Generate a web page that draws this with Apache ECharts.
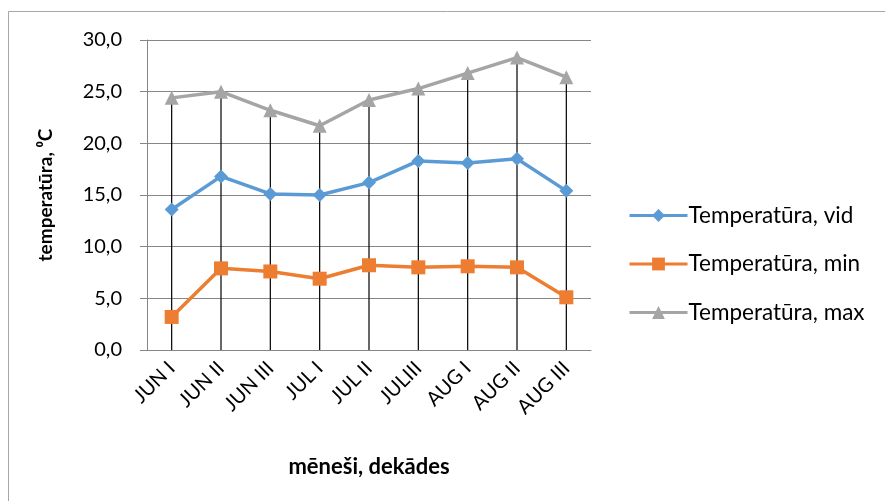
<!DOCTYPE html>
<html><head><meta charset="utf-8">
<script src="https://cdn.jsdelivr.net/npm/echarts@6/dist/echarts.min.js"></script>
<style>html,body{margin:0;padding:0;background:#fff}#c{width:885px;height:501px}</style>
</head><body><div id="c"></div>
<script>
const categories = ['JUN I','JUN II','JUN III','JUL I','JUL II','JULIII','AUG I','AUG II','AUG III'];
const tempVid = [13.6, 16.8, 15.1, 15.0, 16.2, 18.3, 18.1, 18.5, 15.4];
const tempMin = [3.2, 7.9, 7.6, 6.9, 8.2, 8.0, 8.1, 8.0, 5.1];
const tempMax = [24.4, 25.0, 23.2, 21.7, 24.2, 25.3, 26.8, 28.3, 26.4];
const yTicks = [0, 5, 10, 15, 20, 25, 30];

const FONT = 'Lato';
const chart = echarts.init(document.getElementById('c'));
chart.setOption({
  animation: false,
  backgroundColor: '#fff',
  graphic: [{
    type: 'rect', shape: {x: 8.5, y: 11.5, width: 900, height: 600},
    style: {fill: 'none', stroke: '#a6a6a6', lineWidth: 1}, silent: true
  }],
  grid: {left: 147, right: 294, top: 40, bottom: 151},
  legend: {
    orient: 'vertical', left: 623, top: 199, itemGap: 25.5,
    itemWidth: 58, itemHeight: 16,
    lineStyle: {width: 3},
    textStyle: {fontFamily: FONT, fontSize: 22.5, color: '#000', padding: [0, 0, 0, -4]},
    data: ['Temperatūra, vid', 'Temperatūra, min', 'Temperatūra, max']
  },
  xAxis: {
    type: 'category', data: categories, boundaryGap: true,
    axisLine: {lineStyle: {color: '#868686', width: 1}},
    axisTick: {show: false},
    axisLabel: {rotate: 45, fontFamily: FONT, fontSize: 20, color: '#000', margin: 15, interval: 0},
    name: 'mēneši, dekādes', nameLocation: 'middle', nameGap: 106,
    nameTextStyle: {fontFamily: FONT, fontSize: 22, fontWeight: 'bold', color: '#000'}
  },
  yAxis: {
    type: 'value', min: yTicks[0], max: yTicks[yTicks.length-1], interval: 5,
    axisLine: {show: true, lineStyle: {color: '#868686'}},
    axisTick: {show: true, length: 7, lineStyle: {color: '#868686'}},
    splitLine: {lineStyle: {color: '#868686', width: 1}},
    axisLabel: {fontFamily: FONT, fontSize: 20, color: '#000', margin: 25,
      formatter: v => v.toFixed(1).replace('.', ',')},
    name: 'temperatūra, ⁰C', nameLocation: 'middle', nameGap: 92,
    nameTextStyle: {fontFamily: FONT, fontSize: 19, fontWeight: 'bold', color: '#000'}
  },
  series: [
    {
      type: 'custom', name: 'drop', silent: true, z: 1,
      data: tempMax.map((v, i) => [i, v]),
      renderItem: (params, api) => {
        const top = api.coord([api.value(0), api.value(1)]);
        const bot = api.coord([api.value(0), 0]);
        return {type: 'line', shape: {x1: top[0], y1: top[1], x2: bot[0], y2: bot[1]},
          style: {stroke: '#000', lineWidth: 1.2}};
      }
    },
    {name: 'Temperatūra, vid', type: 'line', data: tempVid, symbol: 'diamond', symbolSize: 14,
      itemStyle: {color: '#5b9bd5'}, lineStyle: {color: '#5b9bd5', width: 3.5}, z: 3},
    {name: 'Temperatūra, min', type: 'line', data: tempMin, symbol: 'rect', symbolSize: 14,
      itemStyle: {color: '#ed7d31'}, lineStyle: {color: '#ed7d31', width: 3.5}, z: 3},
    {name: 'Temperatūra, max', type: 'line', data: tempMax, symbol: 'triangle', symbolSize: 14,
      itemStyle: {color: '#a5a5a5'}, lineStyle: {color: '#a5a5a5', width: 3.5}, z: 3}
  ]
});
</script></body></html>
